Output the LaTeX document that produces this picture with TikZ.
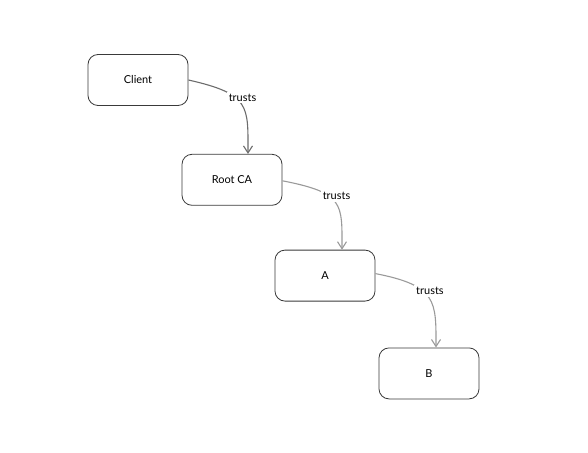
\documentclass[tikz,border=0pt]{standalone}
\usepackage{fontspec}
\setmainfont{Lato}
\usepackage{tikz}
\usetikzlibrary{arrows.meta,positioning}
\definecolor{edgegray}{HTML}{9A9A9A}
\definecolor{boxline}{HTML}{3A3A3A}
\tikzset{
  cert/.style = {rectangle, rounded corners=10bp, draw=boxline, line width=0.8bp,
                 fill=white, text centered, minimum width=100bp,
                 minimum height=51bp, font=\fontsize{11}{13}\selectfont},
  link/.style = {-{Straight Barb[length=7bp,width=9bp]}, line width=1.1bp,
                 draw=edgegray},
  lbl/.style  = {fill=white, inner sep=2bp, font=\fontsize{11}{13}\selectfont,
                 text=black, xshift=4bp, yshift=3bp},
}
\begin{document}
\begin{tikzpicture}[x=1bp, y=-1bp]
\useasboundingbox (0,0) rectangle (588,453);

%% certificate chain
\node[cert] (client) at (138,80) {Client};
\node[cert, below=48bp of client, xshift=94bp] (rootca) {Root CA};
\node[cert, below=44bp of rootca, xshift=93bp] (a) {A};
\node[cert, below=46bp of a, xshift=104bp] (b) {B};

%% trust arrows
\draw[link, draw=gray!85!black] (client.east) .. controls +(62,14) and +(0,-48) .. ([xshift=16bp]rootca.north)
  node[lbl, pos=0.44] {trusts};
\draw[link] ([yshift=-1bp]rootca.east) .. controls +(62,12) and +(0,-46) .. ([xshift=17bp]a.north)
  node[lbl, pos=0.44] {trusts};
\draw[link] ([yshift=2bp]a.east) .. controls +(62,12) and +(0,-46) .. ([xshift=7bp]b.north)
  node[lbl, pos=0.44] {trusts};

\end{tikzpicture}
\end{document}
